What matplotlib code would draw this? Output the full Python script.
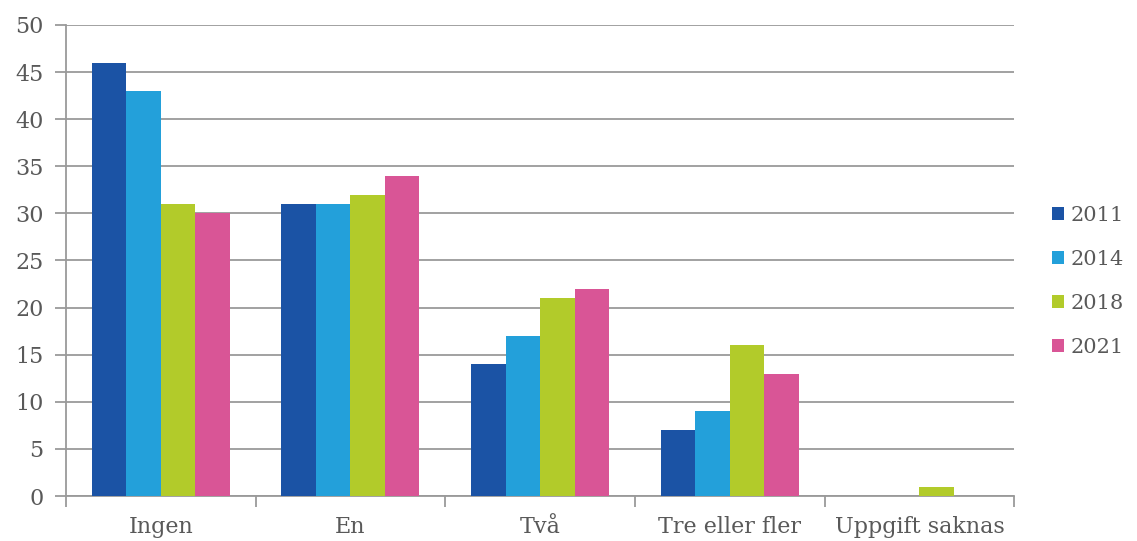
import numpy as np
import matplotlib.pyplot as plt

# ---- data ----
categories = ["Ingen", "En", "Två", "Tre eller fler", "Uppgift saknas"]
years = ["2011", "2014", "2018", "2021"]
v2011 = [46, 31, 14, 7, 0]
v2014 = [43, 31, 17, 9, 0]
v2018 = [31, 32, 21, 16, 1]
v2021 = [30, 34, 22, 13, 0]
colors = ["#1B53A5", "#23A0DA", "#B2CB2A", "#D95596"]

plt.rcParams["font.family"] = ["DejaVu Serif"]
text_color = "#595959"
grid_color = "#9a9a9a"

fig = plt.figure(figsize=(11.37, 5.41), dpi=100)
ax = fig.add_axes([0.058, 0.083, 0.834, 0.871])

x = np.arange(len(categories))
width = 0.182
series = [v2011, v2014, v2018, v2021]
for i, (vals, yr, c) in enumerate(zip(series, years, colors)):
    ax.bar(x + (i - 1.5) * width, vals, width, color=c, label=yr, zorder=3)

ax.set_xlim(-0.5, len(categories) - 0.5)
ax.set_ylim(0, 50)
ax.set_yticks(range(0, 51, 5))
ax.yaxis.grid(True, color=grid_color, linewidth=1.3, zorder=0)

# category labels centred, tick marks between groups
ax.set_xticks(x)
ax.set_xticklabels(categories, fontsize=16, color=text_color)
ax.tick_params(axis="x", length=0, pad=14)
ax.set_xticks(np.arange(-0.5, len(categories), 1), minor=True)
ax.tick_params(axis="x", which="minor", length=8, color=grid_color, width=1.3)
ax.tick_params(axis="y", length=8, color=grid_color, width=1.3,
               labelsize=16, labelcolor=text_color, pad=8)

for s in ["top", "right"]:
    ax.spines[s].set_visible(False)
for s in ["left", "bottom"]:
    ax.spines[s].set_color(grid_color)
    ax.spines[s].set_linewidth(1.3)

ax.legend(loc="center left", bbox_to_anchor=(1.02, 0.455), frameon=False,
          fontsize=15, labelcolor=text_color, handlelength=0.6,
          handleheight=0.6, handletextpad=0.3, labelspacing=1.2)

fig.savefig("out.png", dpi=100)
